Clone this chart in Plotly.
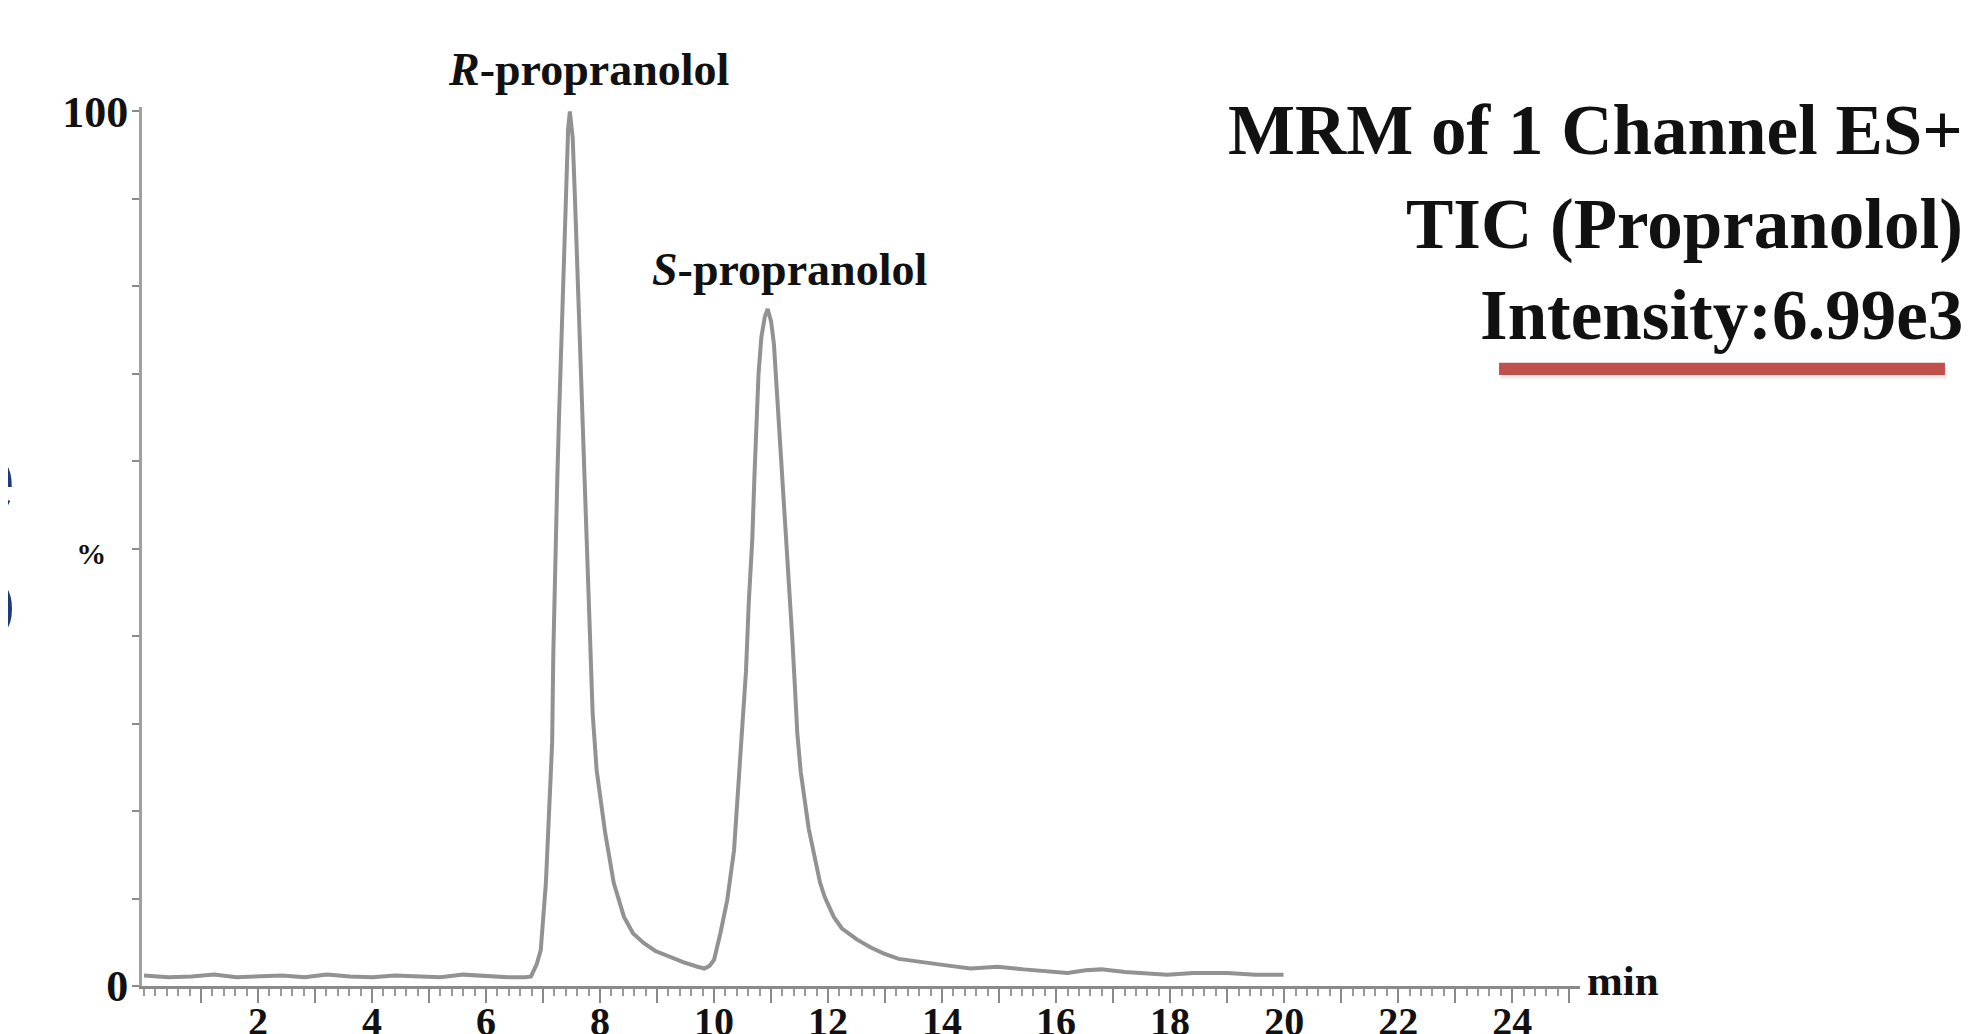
import plotly.graph_objects as go

# ---- data ----
time_min = [0.0, 0.43, 0.83, 1.23, 1.62, 2.02, 2.42, 2.82, 3.21, 3.61, 4.01, 4.40, 4.80, 5.20, 5.60, 5.99, 6.39, 6.69,
            6.79, 6.89, 6.96, 7.05, 7.11, 7.16, 7.18, 7.21, 7.25, 7.28, 7.34, 7.40, 7.44, 7.47,
            7.52, 7.56, 7.60, 7.65, 7.71, 7.75, 7.80, 7.87, 7.94, 8.02, 8.09, 8.24, 8.42, 8.58,
            8.77, 8.97, 9.24, 9.47, 9.71, 9.83, 9.92, 10.00, 10.11, 10.23, 10.35, 10.41, 10.50,
            10.56, 10.61, 10.67, 10.71, 10.75, 10.78, 10.83, 10.89, 10.94, 11.00, 11.05, 11.09,
            11.13, 11.17, 11.22, 11.27, 11.32, 11.37, 11.42, 11.46, 11.52, 11.60, 11.66, 11.74,
            11.86, 11.94, 12.10, 12.24, 12.51, 12.75, 12.98, 13.24, 13.74, 14.14, 14.50, 14.97,
            15.43, 15.90, 16.20, 16.52, 16.79, 17.21, 17.66, 17.95, 18.41, 19.00, 19.50, 19.99]
intensity_pct = [1.2, 1.0, 1.1, 1.3, 1.0, 1.1, 1.2, 1.0, 1.3, 1.1, 1.0, 1.2, 1.1, 1.0, 1.3, 1.1, 1.0, 1.0,
                 1.1, 2.5, 4.1, 11.8, 19.4, 27.8, 38.0, 48.0, 58.0, 65.0, 78.0, 90.0, 98.0, 100.0,
                 97.0, 90.0, 82.0, 73.8, 63.2, 54.8, 45.0, 31.2, 24.7, 20.5, 17.5, 11.8, 7.9, 6.0,
                 4.9, 4.0, 3.3, 2.7, 2.2, 2.0, 2.3, 3.0, 6.0, 9.8, 15.5, 21.3, 28.9,
                 36.0, 44.0, 51.0, 58.6, 65.4, 70.0, 74.2, 76.5, 77.4, 76.0, 73.4, 69.3,
                 65.4, 60.9, 55.9, 51.7, 46.0, 40.0, 34.0, 28.9, 24.5, 20.5, 18.0, 15.5,
                 11.8, 10.2, 7.9, 6.6, 5.3, 4.4, 3.7, 3.1, 2.6, 2.3, 2.0, 2.2,
                 1.9, 1.7, 1.5, 1.8, 1.9, 1.6, 1.4, 1.3, 1.5, 1.5, 1.3, 1.3]

x_tick_vals = list(range(1, 26))
x_tick_text = [str(v) if v % 2 == 0 else "" for v in x_tick_vals]
y_tick_vals = list(range(0, 101, 10))
y_tick_text = ["0", "", "", "", "", '<span style="font-size:30px">%</span>&nbsp;&nbsp;', "", "", "", "", "100"]

peak_labels = ["<b><i>R</i>-propranolol</b>", "<b><i>S</i>-propranolol</b>"]
peak_label_x = [7.79, 11.32]
peak_label_yp = [1.043, 0.815]

title_lines = ["MRM of 1 Channel ES+", "TIC (Propranolol)", "Intensity:6.99e3"]

SERIF = "Liberation Serif, Times New Roman, serif"

fig = go.Figure()
fig.add_trace(go.Scatter(x=time_min, y=intensity_pct, mode="lines",
                         line=dict(color="#929292", width=4), hoverinfo="skip",
                         cliponaxis=False))

annotations = []
for txt, xx, yy in zip(peak_labels, peak_label_x, peak_label_yp):
    annotations.append(dict(text=txt, x=xx, y=yy, xref="x", yref="paper", showarrow=False,
                            xanchor="center", yanchor="middle",
                            font=dict(family=SERIF, size=46, color="#111111")))

title_y = [0.974, 0.866, 0.763]
for txt, yy in zip(title_lines, title_y):
    annotations.append(dict(text="<b>" + txt + "</b>", x=1.2677, y=yy, xref="paper", yref="paper",
                            showarrow=False, xanchor="right", yanchor="middle",
                            font=dict(family=SERIF, size=71, color="#111111")))

annotations.append(dict(text="<b>min</b>", x=1.0035, y=0.006, xref="paper", yref="paper",
                        showarrow=False, xanchor="left", yanchor="middle",
                        font=dict(family=SERIF, size=43, color="#111111")))

# navy glyph fragments cut off at the left edge
for txt, yy in zip(["e", "o"], [0.580, 0.439]):
    annotations.append(dict(text=txt, x=-0.0860, y=yy, xref="paper", yref="paper",
                            showarrow=False, xanchor="right", yanchor="middle",
                            font=dict(family="Liberation Sans, Arial, sans-serif", size=105, color="#1F3A7A")))

shapes = [
    dict(type="rect", xref="paper", yref="paper", x0=0.9450, x1=1.2550, y0=0.691, y1=0.7035,
         fillcolor="rgba(0,0,0,0.08)", line=dict(width=0)),
    dict(type="rect", xref="paper", yref="paper", x0=0.9437, x1=1.2538, y0=0.695, y1=0.709,
         fillcolor="#C0504D", line=dict(width=0)),
]

fig.update_layout(
    width=1970, height=1026,
    margin=dict(l=134, r=398, t=99, b=48),
    paper_bgcolor="white", plot_bgcolor="white",
    showlegend=False,
    annotations=annotations,
    shapes=shapes,
    xaxis=dict(range=[-0.035, 25.19], showgrid=False, zeroline=False, automargin=False,
               showline=True, linecolor="#8a8a8a", linewidth=3,
               tickmode="array", tickvals=x_tick_vals, ticktext=x_tick_text,
               ticks="outside", ticklen=14, tickwidth=2, tickcolor="#8a8a8a",
               ticklabelstandoff=-16,
               tickfont=dict(family=SERIF, size=40, color="#111111", weight="bold"),
               minor=dict(dtick=0.2, ticks="outside", ticklen=7, tickwidth=2, tickcolor="#9a9a9a")),
    yaxis=dict(range=[0, 100.5], showgrid=False, zeroline=False, automargin=False,
               showline=True, linecolor="#a0a0a0", linewidth=3,
               tickmode="array", tickvals=y_tick_vals, ticktext=y_tick_text,
               ticks="outside", ticklen=7, tickwidth=2, tickcolor="#8a8a8a",
               ticklabelstandoff=-5,
               tickfont=dict(family=SERIF, size=44, color="#111111", weight="bold")),
)

fig.write_html("out.html")
